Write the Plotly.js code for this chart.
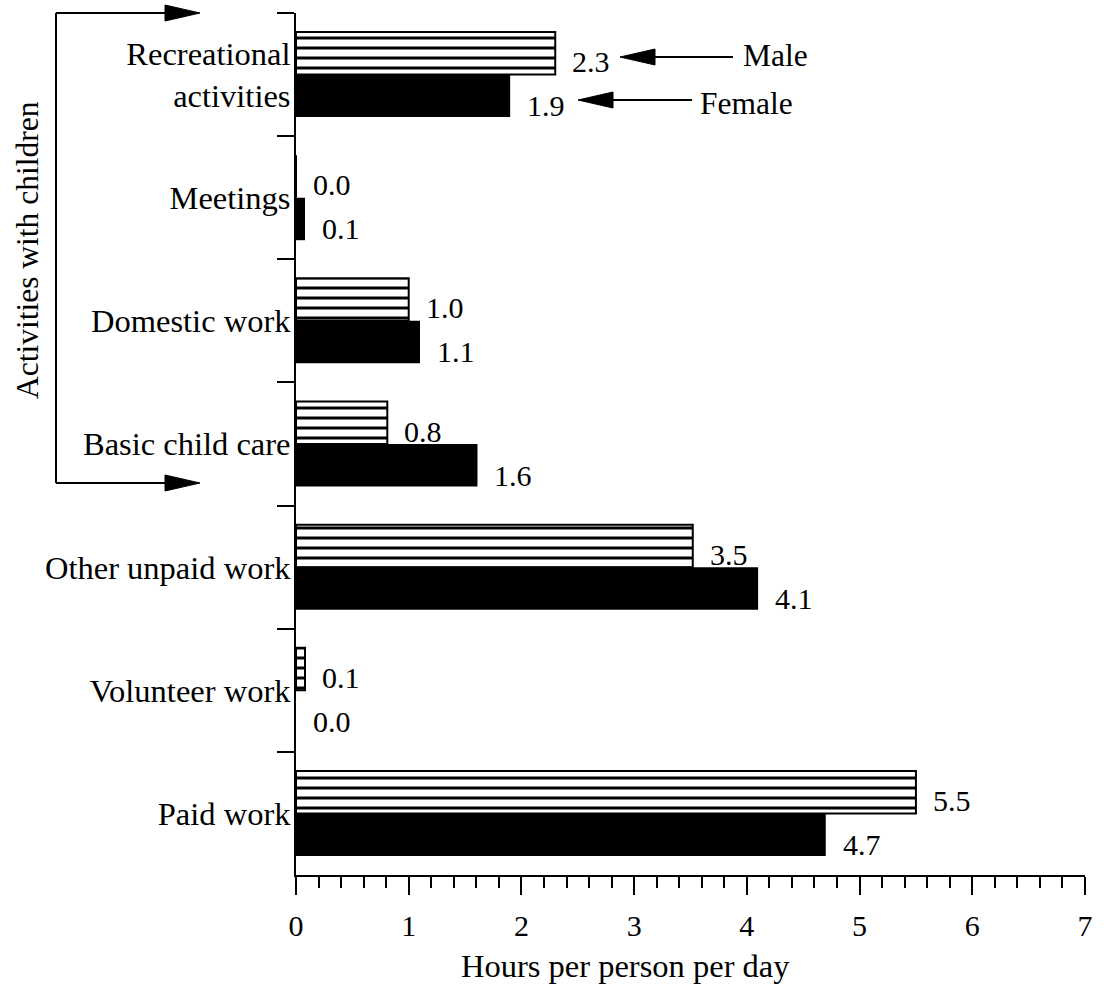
<!DOCTYPE html>
<html>
<head>
<meta charset="utf-8">
<script src="https://cdn.plot.ly/plotly-3.0.1.min.js"></script>
<style>
  html, body { margin: 0; padding: 0; background: #fff; }
  #chart { width: 1106px; height: 988px; }
</style>
</head>
<body>
<div id="chart"></div>
<script>
// ---- data ----
const categories = [
  "Recreational<br>activities",
  "Meetings",
  "Domestic work",
  "Basic child care",
  "Other unpaid work",
  "Volunteer work",
  "Paid work"
];
const maleHours   = [2.3, 0.0, 1.0, 0.81, 3.52, 0.08, 5.5];
const femaleHours = [1.9, 0.08, 1.1, 1.61, 4.1, 0.0, 4.7];
const seriesNames = ["Male", "Female"];
const xTickVals = [0, 1, 2, 3, 4, 5, 6, 7];
const xTitle = "Hours per person per day";
const groupTitle = "Activities with children";

// ---- geometry helpers (decorations only) ----
const W = 1106, H = 988;
const M = {l: 296, r: 21, t: 13, b: 113};
const PW = W - M.l - M.r, PH = H - M.t - M.b;
const px = x => (x - M.l) / PW;
const py = y => (H - M.b - y) / PH;

const FONT = "Liberation Serif, Times New Roman, serif";
const fs = 30;
const fsCat = 32.5;

const traces = [
  {
    type: "bar", orientation: "h", name: seriesNames[0],
    y: categories, x: maleHours,
    marker: {
      color: "white",
      line: {color: "black", width: 2},
      pattern: {shape: "-", size: 10, solidity: 0.3, fgcolor: "black", bgcolor: "white", fillmode: "replace"}
    },
    hoverinfo: "skip"
  },
  {
    type: "bar", orientation: "h", name: seriesNames[1],
    y: categories, x: femaleHours,
    marker: {color: "black", line: {color: "black", width: 0}},
    hoverinfo: "skip"
  }
];

const annotations = [];
categories.forEach((c, i) => {
  annotations.push({
    xref: "x", yref: "y", x: maleHours[i], y: c,
    text: maleHours[i].toFixed(1), showarrow: false,
    xanchor: "left", yanchor: "middle", xshift: 15, yshift: 13,
    font: {family: FONT, size: fs, color: "black"}
  });
  annotations.push({
    xref: "x", yref: "y", x: femaleHours[i], y: c,
    text: femaleHours[i].toFixed(1), showarrow: false,
    xanchor: "left", yanchor: "middle", xshift: 15, yshift: -31,
    font: {family: FONT, size: fs, color: "black"}
  });
});
// legend-like labels
annotations.push({
  xref: "paper", yref: "paper", x: px(741), y: py(55), text: seriesNames[0],
  showarrow: false, xanchor: "left", yanchor: "middle",
  font: {family: FONT, size: 31.5, color: "black"}
});
annotations.push({
  xref: "paper", yref: "paper", x: px(698), y: py(103), text: seriesNames[1],
  showarrow: false, xanchor: "left", yanchor: "middle",
  font: {family: FONT, size: 31.5, color: "black"}
});
// group title
annotations.push({
  xref: "paper", yref: "paper", x: px(27), y: py(250), text: groupTitle,
  showarrow: false, textangle: -90, xanchor: "center", yanchor: "middle",
  font: {family: FONT, size: 31.5, color: "black"}
});
// x axis title (off-centre in the original)
annotations.push({
  xref: "paper", yref: "paper", x: px(625), y: py(966), text: xTitle,
  showarrow: false, xanchor: "center", yanchor: "middle",
  font: {family: FONT, size: 32.5, color: "black"}
});

const line = (x0, y0, x1, y1) => ({
  type: "line", xref: "paper", yref: "paper",
  x0: px(x0), y0: py(y0), x1: px(x1), y1: py(y1),
  line: {color: "black", width: 2}
});
const head = (tipX, y, dir) => {
  const base = tipX - dir * 35;
  return {
    type: "path", xref: "paper", yref: "paper",
    path: `M ${px(tipX)} ${py(y)} L ${px(base)} ${py(y - 8)} L ${px(base)} ${py(y + 8)} Z`,
    fillcolor: "black", line: {color: "black", width: 1}
  };
};

const shapes = [
  line(56, 13, 56, 483),
  line(56, 13, 170, 13),
  line(56, 483, 170, 483),
  head(200, 13, 1),
  head(200, 483, 1),
  line(650, 57, 733, 57),
  head(620, 57, -1),
  line(608, 100, 692, 100),
  head(578, 100, -1)
];

const layout = {
  width: W, height: H,
  margin: M,
  paper_bgcolor: "white", plot_bgcolor: "white",
  showlegend: false,
  barmode: "group", bargap: 0.31, bargroupgap: 0,
  font: {family: FONT, size: fs, color: "black"},
  xaxis: {
    range: [0, 7], tickvals: xTickVals, ticktext: xTickVals.map(String),
    showline: true, linecolor: "black", linewidth: 2,
    ticks: "outside", ticklen: 18, tickwidth: 2, tickcolor: "black",
    minor: {dtick: 0.2, ticks: "outside", ticklen: 11, tickwidth: 2, tickcolor: "black", showgrid: false},
    showgrid: false, zeroline: false,
    ticklabelstandoff: 5,
    tickfont: {family: FONT, size: 30, color: "black"},
    fixedrange: true
  },
  yaxis: {
    type: "category", categoryorder: "array", categoryarray: categories,
    autorange: "reversed",
    showline: true, linecolor: "black", linewidth: 2,
    ticks: "outside", tickson: "boundaries", ticklen: 17, tickwidth: 2, tickcolor: "black",
    showgrid: false, zeroline: false,
    ticklabelstandoff: -3,
    tickfont: {family: FONT, size: fsCat, color: "black"},
    fixedrange: true
  },
  annotations: annotations,
  shapes: shapes
};

Plotly.newPlot("chart", traces, layout, {displayModeBar: false, staticPlot: true});
</script>
</body>
</html>
